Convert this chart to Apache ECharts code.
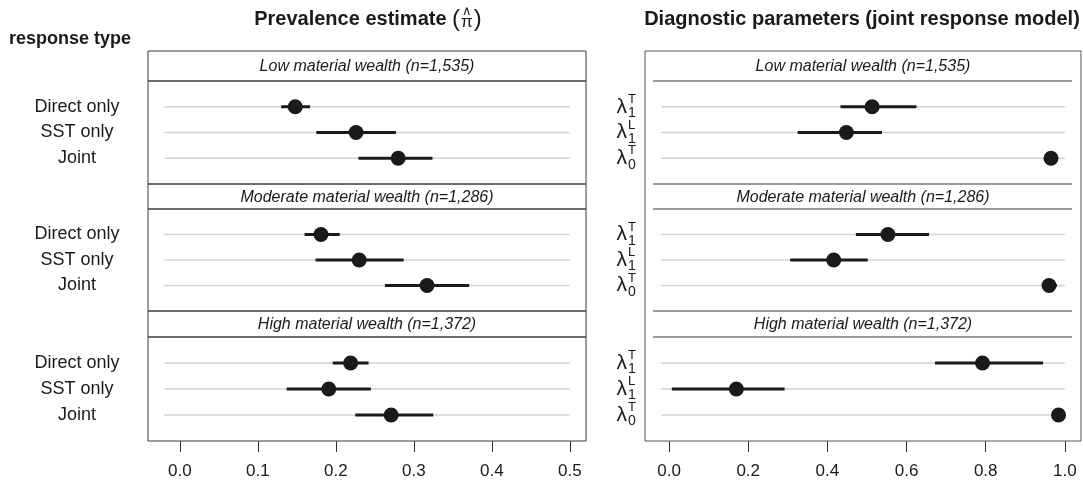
<!DOCTYPE html>
<html>
<head>
<meta charset="utf-8">
<script src="https://cdn.jsdelivr.net/npm/echarts@6/dist/echarts.min.js"></script>
<style>html,body{margin:0;padding:0;background:#fff}#c{width:1083px;height:487px}</style>
</head>
<body>
<div id="c"></div>
<script>
// ---------------- data ----------------
const groups = ['Low material wealth (n=1,535)', 'Moderate material wealth (n=1,286)', 'High material wealth (n=1,372)'];
const responseTypes = ['Direct only', 'SST only', 'Joint'];
const paramSymbol = ['λ', 'λ', 'λ'];
const paramSup = ['T', 'L', 'T'];
const paramSub = ['1', '1', '0'];
const prevTicks = [0, 0.1, 0.2, 0.3, 0.4, 0.5];
const paramTicks = [0, 0.2, 0.4, 0.6, 0.8, 1.0];

// prevalence estimates (rows: Direct only, SST only, Joint) per wealth group
const prevEst = [[0.148, 0.226, 0.280], [0.181, 0.230, 0.317], [0.219, 0.191, 0.271]];
const prevLo  = [[0.130, 0.175, 0.229], [0.160, 0.174, 0.263], [0.196, 0.137, 0.225]];
const prevHi  = [[0.167, 0.277, 0.324], [0.205, 0.287, 0.371], [0.242, 0.245, 0.325]];

// diagnostic parameters (rows: λ1T, λ1L, λ0T) per wealth group
const parEst = [[0.513, 0.448, 0.965], [0.553, 0.416, 0.960], [0.792, 0.170, 0.984]];
const parLo  = [[0.433, 0.325, 0.955], [0.472, 0.306, 0.943], [0.672, 0.007, 0.978]];
const parHi  = [[0.625, 0.538, 0.975], [0.657, 0.502, 0.980], [0.945, 0.292, 0.990]];

const prevRange = [-0.02, 0.5];
const parRange = [-0.02, 1.0];

// ---------------- layout ----------------
const FONT = 'Liberation Sans, Arial, Helvetica, sans-serif';
const INK = '#1a1a1a';
const BOX = '#3a3a3a';
const L = { x: 148, w: 438 };
const R = { x: 645, w: 436 };
const strips = [{ y: 51, h: 30 }, { y: 184, h: 25 }, { y: 311, h: 26 }];
const panels = [{ y: 81, h: 103 }, { y: 209, h: 102 }, { y: 337, h: 104 }];

function expand(r) { const d = (r[1] - r[0]) * 0.04; return [r[0] - d, r[1] + d]; }
const prevLim = expand(prevRange);
const parLim = expand(parRange);

const grid = [], xAxis = [], yAxis = [], series = [];

function baseY(gi) {
  return { gridIndex: gi, type: 'value', position: 'left', offset: 0, inverse: true, min: 0, max: 4, interval: 1,
    axisLine: { show: false, onZero: false }, axisTick: { show: false }, splitLine: { show: false } };
}

function addPanel(side, g) {
  const isLeft = side === 'L';
  const box = isLeft ? L : R;
  const gi = grid.length;
  grid.push({ left: box.x, top: panels[g].y, width: box.w, height: panels[g].h,
    containLabel: false, outerBoundsMode: 'none',
    show: isLeft, borderColor: BOX, borderWidth: 1, backgroundColor: 'transparent' });
  const lim = isLeft ? prevLim : parLim;
  const ticks = isLeft ? prevTicks : paramTicks;
  const bottom = g === 2;
  xAxis.push({ gridIndex: gi, type: 'value', position: 'bottom', min: lim[0], max: lim[1], show: bottom,
    axisLine: { show: false, onZero: false }, splitLine: { show: false },
    axisTick: { show: true, length: 11, customValues: ticks, lineStyle: { color: '#333', width: 1 } },
    axisLabel: { show: true, customValues: ticks, margin: 22, fontSize: 17, fontFamily: FONT, color: INK,
      formatter: v => Number(v).toFixed(1) } });
  const yIdx = yAxis.length;
  if (isLeft) {
    yAxis.push(Object.assign(baseY(gi), { axisLabel: { show: true, align: 'center', margin: 71,
      fontSize: 18, fontFamily: FONT, color: INK,
      formatter: v => responseTypes[v - 1] || '' } }));
  } else {
    yAxis.push(Object.assign(baseY(gi), { axisLabel: { show: true, align: 'right', margin: 18,
      fontSize: 21, fontFamily: FONT, color: INK,
      formatter: v => paramSymbol[v - 1] || '' } }));
    yAxis.push(Object.assign(baseY(gi), { axisLabel: { show: true, align: 'left', margin: 17,
      fontSize: 13, lineHeight: 15, fontFamily: FONT, color: INK,
      formatter: v => paramSup[v - 1] ? paramSup[v - 1] + '\n ' : '' } }));
    yAxis.push(Object.assign(baseY(gi), { axisLabel: { show: true, align: 'left', margin: 17,
      fontSize: 14, lineHeight: 13, fontFamily: FONT, color: INK,
      formatter: v => paramSub[v - 1] ? ' \n' + paramSub[v - 1] : '' } }));
  }
  const est = isLeft ? prevEst[g] : parEst[g];
  const lo = isLeft ? prevLo[g] : parLo[g];
  const hi = isLeft ? prevHi[g] : parHi[g];
  const range = isLeft ? prevRange : parRange;
  const guide = est.map((_, i) => [range[0], range[1], i + 1]);
  const ci = est.map((_, i) => [lo[i], hi[i], i + 1]);
  const pts = est.map((v, i) => [v, i + 1]);
  const segRender = (color, width) => (params, api) => {
    const a = api.coord([api.value(0), api.value(2)]);
    const b = api.coord([api.value(1), api.value(2)]);
    return { type: 'line', shape: { x1: a[0], y1: a[1], x2: b[0], y2: b[1] },
      style: { stroke: color, lineWidth: width } };
  };
  series.push({ type: 'custom', xAxisIndex: gi, yAxisIndex: yIdx, data: guide, z: 1, silent: true,
    encode: { x: [0, 1], y: 2 }, renderItem: segRender('#d2d2d2', 1.5) });
  series.push({ type: 'custom', xAxisIndex: gi, yAxisIndex: yIdx, data: ci, z: 2, silent: true,
    encode: { x: [0, 1], y: 2 }, renderItem: segRender(INK, 3) });
  series.push({ type: 'scatter', xAxisIndex: gi, yAxisIndex: yIdx, data: pts, z: 3, silent: true,
    symbol: 'circle', symbolSize: 15, itemStyle: { color: INK, opacity: 1 } });
}
for (let g = 0; g < 3; g++) { addPanel('L', g); addPanel('R', g); }

// ---------------- graphics: strips, boxes, titles ----------------
const graphic = [];
strips.forEach((s, g) => {
  graphic.push({ type: 'rect', shape: { x: L.x, y: s.y, width: L.w, height: s.h },
    style: { fill: 'none', stroke: BOX, lineWidth: 1 }, z: 10 });
  graphic.push({ type: 'text', x: L.x + L.w / 2, y: s.y + s.h / 2 + 1,
    style: { text: groups[g], font: 'italic 16px ' + FONT, fill: INK, textAlign: 'center', textVerticalAlign: 'middle' }, z: 10 });
  graphic.push({ type: 'text', x: R.x + R.w / 2, y: s.y + s.h / 2 + 1,
    style: { text: groups[g], font: 'italic 16px ' + FONT, fill: INK, textAlign: 'center', textVerticalAlign: 'middle' }, z: 10 });
});
// right: outer box and strip separators
graphic.push({ type: 'rect', shape: { x: R.x, y: strips[0].y, width: R.w, height: panels[2].y + panels[2].h - strips[0].y },
  style: { fill: 'none', stroke: '#555', lineWidth: 1 }, z: 10 });
[panels[0].y, strips[1].y, panels[1].y, strips[2].y, panels[2].y].forEach(y => {
  graphic.push({ type: 'line', shape: { x1: R.x + 8, y1: y, x2: R.x + R.w - 9, y2: y },
    style: { stroke: BOX, lineWidth: 1 }, z: 10 });
});

// titles
const mctx = document.createElement('canvas').getContext('2d');
function tw(text, font) { mctx.font = font; return mctx.measureText(text).width; }
const tFont = 'bold 20px ' + FONT;
const parFont = '24px ' + FONT;
const piFont = '17px ' + FONT;
const hatFont = '13px ' + FONT;
const part1 = 'Prevalence estimate ';
const w1 = tw(part1, tFont), wp = tw('(', parFont), wpi = tw('π', piFont);
const total = w1 + wp * 2 + wpi + 2;
let x0 = 368 - total / 2;
const ty = 19;
graphic.push({ type: 'text', x: x0, y: ty, style: { text: part1, font: tFont, fill: INK, textAlign: 'left', textVerticalAlign: 'middle' } });
x0 += w1;
graphic.push({ type: 'text', x: x0, y: ty, style: { text: '(', font: parFont, fill: INK, textAlign: 'left', textVerticalAlign: 'middle' } });
x0 += wp + 1;
graphic.push({ type: 'text', x: x0 + wpi / 2, y: 11, style: { text: '∧', font: hatFont, fill: INK, textAlign: 'center', textVerticalAlign: 'middle' } });
graphic.push({ type: 'text', x: x0 + wpi / 2, y: 22, style: { text: 'π', font: piFont, fill: INK, textAlign: 'center', textVerticalAlign: 'middle' } });
x0 += wpi + 1;
graphic.push({ type: 'text', x: x0, y: ty, style: { text: ')', font: parFont, fill: INK, textAlign: 'left', textVerticalAlign: 'middle' } });

graphic.push({ type: 'text', x: R.x + R.w / 2 - 1, y: ty, style: { text: 'Diagnostic parameters (joint response model)', font: tFont, fill: INK, textAlign: 'center', textVerticalAlign: 'middle' } });
graphic.push({ type: 'text', x: 70, y: 39, style: { text: 'response type', font: 'bold 18px ' + FONT, fill: INK, textAlign: 'center', textVerticalAlign: 'middle' } });

const chart = echarts.init(document.getElementById('c'), null, { renderer: 'canvas' });
chart.setOption({ animation: false, backgroundColor: '#fff', grid, xAxis, yAxis, series, graphic });
</script>
</body>
</html>
